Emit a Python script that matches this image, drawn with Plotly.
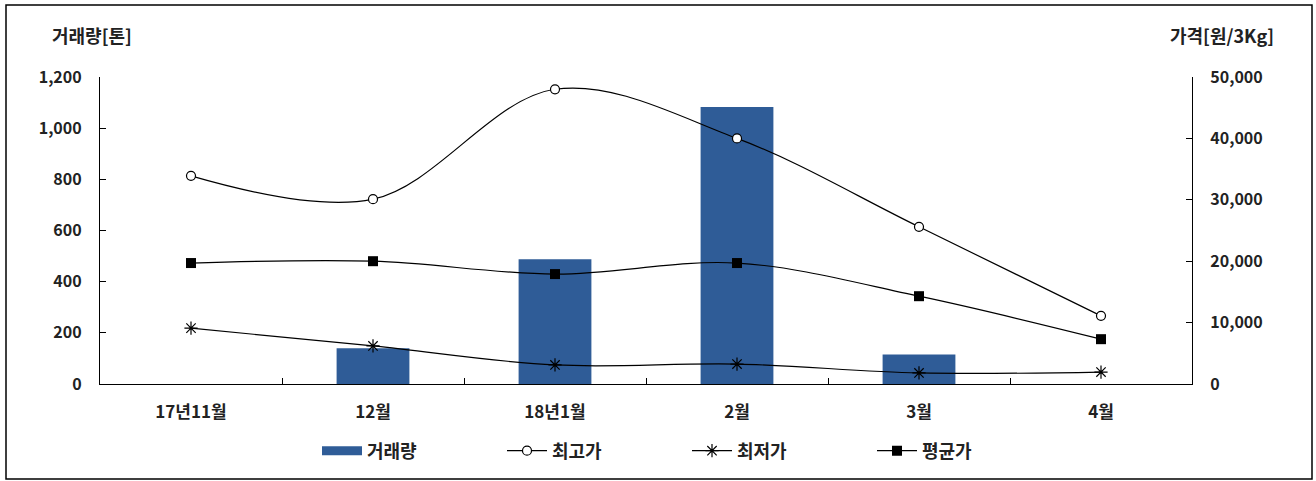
import plotly.graph_objects as go

categories = ["17년11월", "12월", "18년1월", "2월", "3월", "4월"]
volume = [0, 140, 488, 1083, 115, 0]          # 거래량 (톤)
high_price = [33900, 30100, 48000, 40000, 25600, 11100]   # 최고가
low_price = [9100, 6200, 3100, 3250, 1800, 1950]          # 최저가
avg_price = [19700, 20000, 17900, 19700, 14300, 7300]     # 평균가

FONT = "Noto Sans CJK KR"
TXT = "#222222"
BAR = "#2F5C97"

fig = go.Figure()
fig.add_trace(go.Bar(x=categories, y=volume, name="거래량", marker=dict(color=BAR, line=dict(width=0)),
                     width=0.4, yaxis="y", showlegend=False))
# legend swatch for the bar series (wide flat bar like the original)
fig.add_trace(go.Scatter(x=[None], y=[None], name="거래량", mode="lines",
                         line=dict(color=BAR, width=9), yaxis="y"))
fig.add_trace(go.Scatter(x=categories, y=high_price, name="최고가", yaxis="y2", mode="lines+markers",
                         line=dict(color="black", width=1.2, shape="spline", smoothing=1.0),
                         marker=dict(symbol="circle", size=9, color="white", line=dict(color="black", width=1.2))))
fig.add_trace(go.Scatter(x=categories, y=low_price, name="최저가", yaxis="y2", mode="lines+markers",
                         line=dict(color="black", width=1.2, shape="spline", smoothing=1.0),
                         marker=dict(symbol="asterisk-open", size=11, color="black", line=dict(color="black", width=1.2))))
fig.add_trace(go.Scatter(x=categories, y=avg_price, name="평균가", yaxis="y2", mode="lines+markers",
                         line=dict(color="black", width=1.2, shape="spline", smoothing=1.0),
                         marker=dict(symbol="square", size=10, color="black")))

W, H = 1316, 481
L, R, T, B = 100, 124, 77, 97
pw, ph = W - L - R, H - T - B

def px(x):
    return (x - L) / pw

def py(y):
    return (H - B - y) / ph

fig.update_layout(
    width=W, height=H,
    margin=dict(l=L, r=R, t=T, b=B, pad=0),
    paper_bgcolor="white", plot_bgcolor="white",
    font=dict(family=FONT, size=15, color=TXT),
    showlegend=True,
    legend=dict(orientation="h", x=px(317), y=py(451), xanchor="left", yanchor="middle",
                font=dict(family=FONT, size=18, color=TXT, weight="bold"),
                entrywidth=130, entrywidthmode="pixels",
                itemwidth=40, tracegroupgap=0, bgcolor="rgba(0,0,0,0)"),
    xaxis=dict(showgrid=False, showline=True, linecolor="black", linewidth=1.2,
               ticks="inside", tickson="boundaries", ticklen=6, tickcolor="black",
               tickfont=dict(family=FONT, size=17, color=TXT, weight="bold"),
               ticklabelstandoff=12, zeroline=False),
    yaxis=dict(range=[0, 1200], dtick=200, tickformat=",", showgrid=False, showline=True,
               linecolor="black", linewidth=1.2, ticks="inside", ticklen=6, tickcolor="black",
               tickfont=dict(family=FONT, size=16, color=TXT, weight="bold"),
               ticklabelstandoff=14, zeroline=False),
    yaxis2=dict(range=[0, 50000], dtick=10000, tickformat=",", overlaying="y", side="right",
                showgrid=False, showline=True, linecolor="black", linewidth=1.2,
                ticks="inside", ticklen=6, tickcolor="black",
                tickfont=dict(family=FONT, size=16, color=TXT, weight="bold"),
                ticklabelstandoff=14, zeroline=False),
    bargap=0.6,
)

fig.add_annotation(text="거래량[톤]", x=px(92), y=py(35), xref="paper", yref="paper",
                   showarrow=False, xanchor="center", yanchor="middle",
                   font=dict(family=FONT, size=18, color=TXT, weight="bold"))
fig.add_annotation(text="가격[원/3Kg]", x=px(1222), y=py(35), xref="paper", yref="paper",
                   showarrow=False, xanchor="center", yanchor="middle",
                   font=dict(family=FONT, size=18, color=TXT, weight="bold"))

# outer frame
fig.add_shape(type="rect", xref="paper", yref="paper",
              x0=px(6), x1=px(1312), y0=py(479), y1=py(5),
              line=dict(color="black", width=1.5), fillcolor="rgba(0,0,0,0)", layer="below")

fig.write_html("out.html", config={"displayModeBar": False},
               post_script="document.body.style.margin='0';document.body.style.overflow='hidden';")
